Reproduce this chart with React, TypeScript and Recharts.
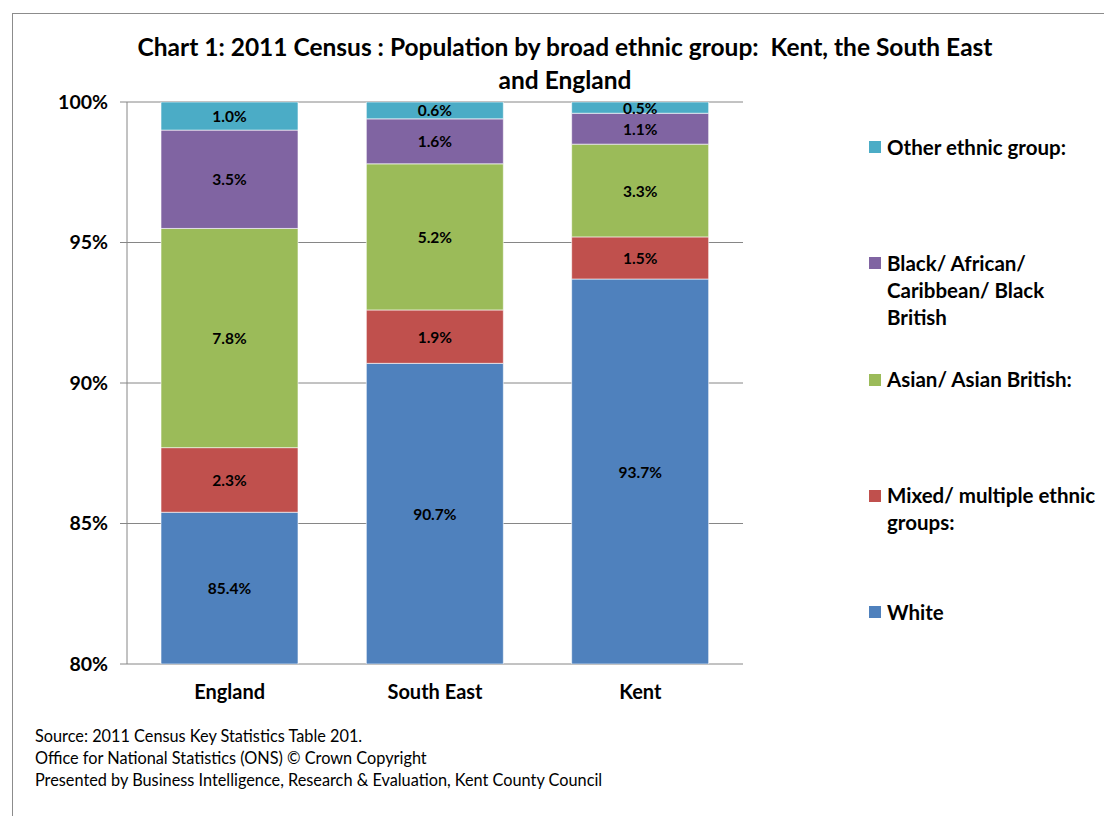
import { BarChart, Bar, XAxis, YAxis, CartesianGrid, LabelList } from "recharts";

const categories = ["England", "South East", "Kent"];
const white = [85.4, 90.7, 93.7];
const mixed = [2.3, 1.9, 1.5];
const asian = [7.8, 5.2, 3.3];
const black = [3.5, 1.6, 1.1];
const other = [1.0, 0.6, 0.5];
const yTicks = [80, 85, 90, 95, 100];

const series = [
    { key: "white", name: "White", color: "#4F81BD", values: white },
    { key: "mixed", name: "Mixed/ multiple ethnic\ngroups:", color: "#C0504D", values: mixed },
    { key: "asian", name: "Asian/ Asian British:", color: "#9BBB59", values: asian },
    { key: "black", name: "Black/ African/\nCaribbean/ Black\nBritish", color: "#8064A2", values: black },
    { key: "other", name: "Other ethnic group:", color: "#4BACC6", values: other },
];

const data = categories.map((c, i) => {
    const row: Record<string, any> = { name: c };
    series.forEach(s => { row[s.key] = s.values[i]; });
    return row;
});

const W = 1104;
const H = 816;
const margin = { top: 102, right: 361, bottom: 122, left: 67 };
const PLOT_TOP = margin.top;
const PLOT_BOTTOM = H - margin.bottom - 30;
const FONT = "Lato, 'Open Sans', sans-serif";
const GREY = "#868686";

// label centred on the visible part of the segment
const SegmentLabel = (props: any) => {
    const { x, y, width, height, value } = props;
    const top = Math.max(Math.min(y, y + height), PLOT_TOP);
    const bottom = Math.min(Math.max(y, y + height), PLOT_BOTTOM);
    return (
        <text x={x + width / 2} y={(top + bottom) / 2} textAnchor="middle" dominantBaseline="central"
            fontFamily={FONT} fontWeight={700} fontSize={15.5} fill="#000">
            {`${Number(value).toFixed(1)}%`}
        </text>
    );
};

export default function App() {
    return (
        <div style={{ position: "fixed", left: 0, top: 0, width: W, height: H, overflow: "hidden", background: "#fff", fontFamily: FONT }}>
            <div style={{ position: "absolute", left: 12, top: 13, width: 1200, height: 900, border: "1px solid #8c8c8c" }} />
            <div style={{ position: "absolute", left: 80, width: 970, top: 30, textAlign: "center", fontWeight: 700, fontSize: 24.5, lineHeight: "33px" }}>
                Chart 1: 2011 Census : Population by broad ethnic group:&nbsp; Kent, the South East<br />and England
            </div>
            <div style={{ position: "absolute", left: 0, top: 0 }}>
                <BarChart width={W} height={H} data={data} margin={margin} barSize={137}>
                    <CartesianGrid xAxisId="cat" vertical={false} stroke={GREY} />
                    <XAxis xAxisId="edge" type="number" domain={[0, 3]} ticks={[0, 1, 2, 3]} height={0}
                        stroke={GREY} tickSize={7} tickFormatter={() => ""} />
                    <XAxis xAxisId="cat" dataKey="name" height={30} axisLine={false} tickLine={false} tickSize={0} tickMargin={21}
                        tick={{ fill: "#000", fontFamily: FONT, fontWeight: 700, fontSize: 20 }} />
                    <YAxis width={60} domain={[80, 100]} allowDataOverflow ticks={yTicks} stroke={GREY} tickSize={7} tickMargin={12}
                        tickFormatter={(v: number) => `${v}%`}
                        tick={{ fill: "#000", fontFamily: FONT, fontWeight: 700, fontSize: 19.5 }} />
                    {series.map(s => (
                        <Bar key={s.key} xAxisId="cat" dataKey={s.key} stackId="a" fill={s.color} stroke="#ffffff" strokeWidth={0.6}
                            isAnimationActive={false}>
                            <LabelList dataKey={s.key} content={SegmentLabel} />
                        </Bar>
                    ))}
                </BarChart>
            </div>
            {[...series].reverse().map((s, i) => (
                <div key={s.key} style={{ position: "absolute", left: 869, top: 147 + i * 116.3 - 13.5, display: "flex", alignItems: "flex-start" }}>
                    <div style={{ width: 12, height: 12, background: s.color, marginTop: 7.5, marginRight: 6 }} />
                    <div style={{ fontWeight: 700, fontSize: 20.5, lineHeight: "27px", whiteSpace: "pre" }}>{s.name}</div>
                </div>
            ))}
            <div style={{ position: "absolute", left: 35, top: 725, fontSize: 16.3, lineHeight: "22px", whiteSpace: "nowrap" }}>
                Source: 2011 Census Key Statistics Table 201.<br />
                Office for National Statistics (ONS) © Crown Copyright<br />
                Presented by Business Intelligence, Research &amp; Evaluation, Kent County Council
            </div>
        </div>
    );
}
